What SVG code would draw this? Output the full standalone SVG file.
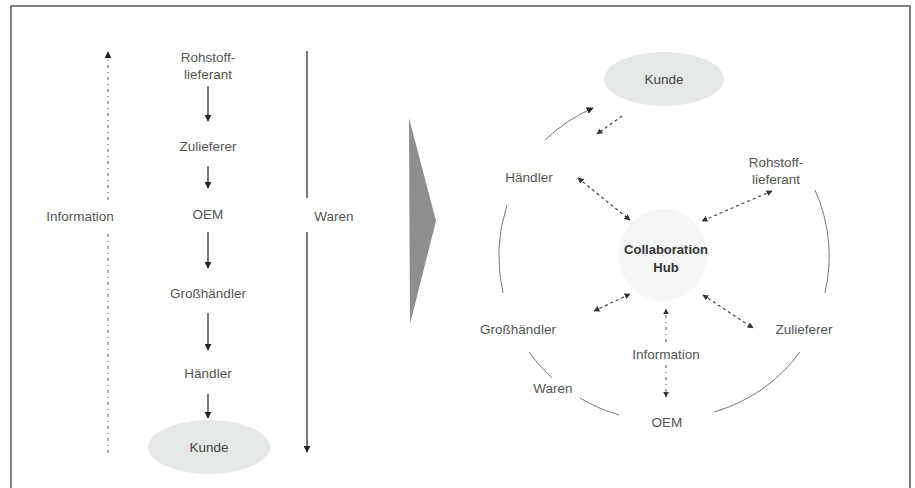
<svg xmlns="http://www.w3.org/2000/svg" width="915" height="488" viewBox="0 0 915 488">
<defs>
<marker id="ah" viewBox="0 0 10 10" refX="9" refY="5" markerWidth="7" markerHeight="7" markerUnits="userSpaceOnUse" orient="auto-start-reverse">
<path d="M0,0 L10,5 L0,10 z" fill="#222"/>
</marker>
<marker id="ahs" viewBox="0 0 10 10" refX="9" refY="5" markerWidth="6" markerHeight="6" markerUnits="userSpaceOnUse" orient="auto-start-reverse">
<path d="M0,0 L10,5 L0,10 z" fill="#333"/>
</marker>
</defs>
<style>
text{font-family:"Liberation Sans",Arial,sans-serif;font-size:13.5px;fill:#555;text-anchor:middle}
.b{font-weight:bold;font-size:13px;fill:#333}
.k{fill:#444}
.sol{stroke:#222;stroke-width:1.2;fill:none}
.dd{stroke:#555;stroke-width:1;fill:none;stroke-dasharray:3,4,1,4}
.da{stroke:#444;stroke-width:1.2;fill:none;stroke-dasharray:3,3}
.arc{stroke:#777;stroke-width:1;fill:none}
</style>
<rect x="0" y="0" width="915" height="488" fill="#fff"/>
<rect x="11" y="6" width="899" height="490" fill="none" stroke="#555" stroke-width="1.5"/>
<polygon points="409,118 436,221 410,324" fill="#8c8f8b"/>

<g id="connectors">
<line class="dd" x1="108" y1="453" x2="108" y2="233"/>
<line class="dd" x1="108" y1="200" x2="108" y2="52" marker-end="url(#ah)"/>
<line class="sol" x1="307" y1="51" x2="307" y2="198"/>
<line class="sol" x1="307" y1="232" x2="307" y2="452" marker-end="url(#ah)"/>
<line class="sol" x1="208" y1="86" x2="208" y2="121" marker-end="url(#ah)"/>
<line class="sol" x1="208" y1="166" x2="208" y2="188" marker-end="url(#ah)"/>
<line class="sol" x1="208" y1="232" x2="208" y2="268" marker-end="url(#ah)"/>
<line class="sol" x1="208" y1="313" x2="208" y2="350" marker-end="url(#ah)"/>
<line class="sol" x1="208" y1="394" x2="208" y2="418" marker-end="url(#ah)"/>

<path class="arc" d="M545,140 A165,165 0 0,1 593,108" marker-end="url(#ah)"/>
<path class="arc" d="M503,293 A165,165 0 0,1 507,205"/>
<path class="arc" d="M815,190 A165,165 0 0,1 825,293"/>
<path class="arc" d="M552,378 A165,165 0 0,1 529,352"/>
<path class="arc" d="M619,415 A165,165 0 0,1 580,398"/>
<path class="arc" d="M800,352 A165,165 0 0,1 714,412"/>

<line class="da" x1="622" y1="116" x2="597" y2="134" marker-end="url(#ahs)"/>
<line class="da" x1="578" y1="178" x2="630" y2="220" marker-start="url(#ahs)" marker-end="url(#ahs)"/>
<line class="da" x1="772" y1="191" x2="702" y2="221" marker-start="url(#ahs)" marker-end="url(#ahs)"/>
<line class="da" x1="594" y1="311" x2="630" y2="294" marker-start="url(#ahs)" marker-end="url(#ahs)"/>
<line class="da" x1="703" y1="295" x2="753" y2="328" marker-start="url(#ahs)" marker-end="url(#ahs)"/>
<line class="dd" x1="666" y1="342" x2="666" y2="309" marker-end="url(#ahs)"/>
<line class="dd" x1="666" y1="365" x2="666" y2="397" marker-end="url(#ahs)"/>
</g>

<g id="left-info"><text x="80" y="221">Information</text></g>
<g id="left-waren"><text x="334" y="221">Waren</text></g>
<g id="left-rohstoff"><text x="208" y="62">Rohstoff-</text><text x="208" y="79">lieferant</text></g>
<g id="left-zulieferer"><text x="208" y="151">Zulieferer</text></g>
<g id="left-oem"><text x="208" y="219">OEM</text></g>
<g id="left-grosshaendler"><text x="208" y="298">Großhändler</text></g>
<g id="left-haendler"><text x="208" y="378">Händler</text></g>
<g id="left-kunde"><ellipse cx="209" cy="447" rx="61" ry="27" fill="#e4e9e5"/><text class="k" x="209" y="452">Kunde</text></g>

<g id="right-kunde"><ellipse cx="664" cy="79" rx="60" ry="27" fill="#e4e9e5"/><text class="k" x="664" y="84">Kunde</text></g>
<g id="hub"><ellipse cx="663" cy="255" rx="44" ry="46" fill="#f4f7f5"/><text class="b" x="666" y="254">Collaboration</text><text class="b" x="666" y="272">Hub</text></g>
<g id="right-haendler"><text x="529" y="182">Händler</text></g>
<g id="right-rohstoff"><text x="776" y="167">Rohstoff-</text><text x="776" y="184">lieferant</text></g>
<g id="right-grosshaendler"><text x="518" y="334">Großhändler</text></g>
<g id="right-zulieferer"><text x="804" y="334">Zulieferer</text></g>
<g id="right-info"><text x="666" y="359">Information</text></g>
<g id="right-waren"><text x="553" y="393">Waren</text></g>
<g id="right-oem"><text x="667" y="427">OEM</text></g>
</svg>
